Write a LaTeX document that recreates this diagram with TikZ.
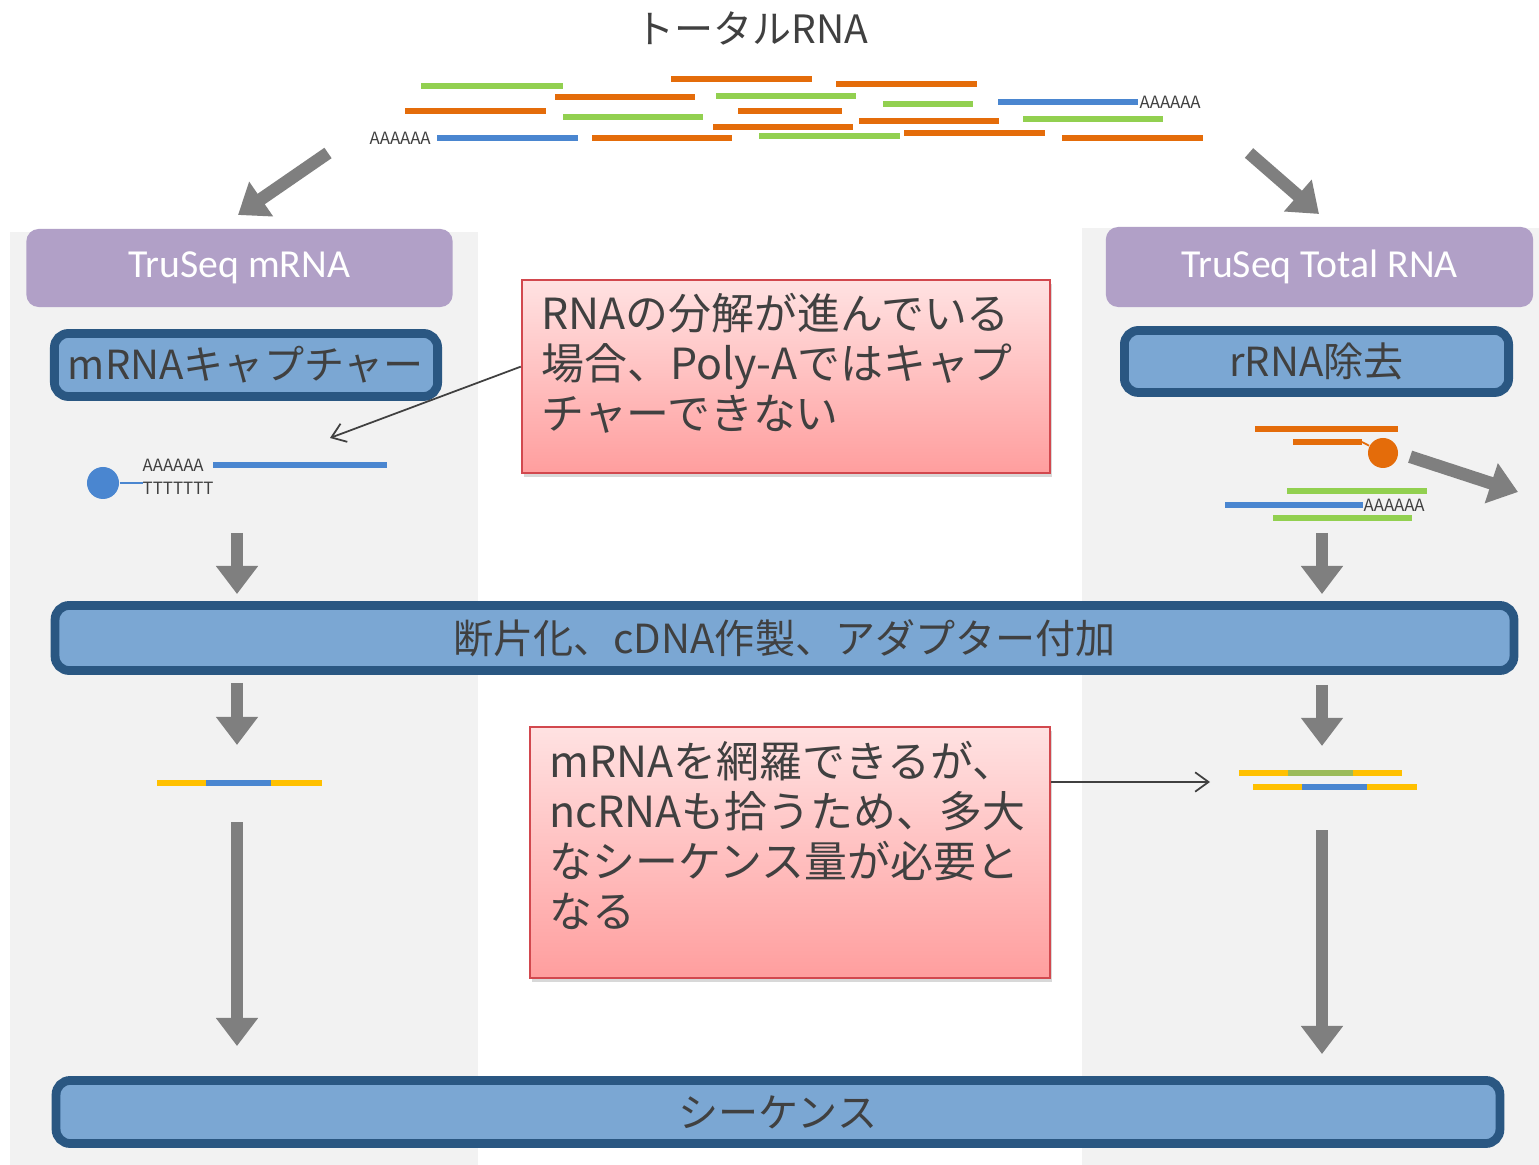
\documentclass[tikz,border=0pt]{standalone}
\usepackage{fontspec}
\setmainfont{Noto Sans CJK JP}
\newfontfamily\kitfont{Carlito}
\usetikzlibrary{arrows.meta,shadows,positioning}

\definecolor{txt}{HTML}{404040}
\definecolor{panel}{HTML}{F2F2F2}
\definecolor{kit}{HTML}{B1A0C7}
\definecolor{stepfill}{HTML}{7BA7D3}
\definecolor{stepline}{HTML}{2A5782}
\definecolor{notetop}{HTML}{FFE2E2}
\definecolor{notebottom}{HTML}{FF9E9E}
\definecolor{noteline}{HTML}{D2484E}
\definecolor{arrowgray}{HTML}{7F7F7F}
\definecolor{rnaorange}{HTML}{E46C0A}
\definecolor{rnagreen}{HTML}{92D050}
\definecolor{rnablue}{HTML}{4A86D0}
\definecolor{adapter}{HTML}{FFC000}
\definecolor{insert}{HTML}{9BBB59}

\begin{document}
\begin{tikzpicture}[x=0.01cm, y=-0.01cm,
  every node/.style={text=txt},
  kitbox/.style={fill=kit, rounded corners=3.5pt, inner sep=0pt, text=white,
    font=\kitfont\fontsize{11.3}{13}\selectfont},
  stepbox/.style={draw=stepline, fill=stepfill, line width=2.5pt, rounded corners=4pt, inner sep=0pt,
    font=\fontsize{11.4}{13}\selectfont,
    drop shadow={shadow xshift=-0.5pt, shadow yshift=-0.9pt, opacity=0.3}},
  note/.style={draw=noteline, line width=0.6pt, top color=notetop, bottom color=notebottom,
    drop shadow={shadow xshift=0.6pt, shadow yshift=-1.2pt, opacity=0.3}},
  notetext/.style={align=left, inner sep=0pt, font=\fontsize{12.2}{14.2}\selectfont},
  flow/.style={draw=arrowgray, line width=3.6pt, -{Triangle[width=11.5pt, length=8pt]}},
  pointer/.style={draw=txt, line width=0.5pt, -{Straight Barb[length=3.8pt, width=5.5pt]}},
  strand/.style={line width=1.7pt},
  polya/.style={inner sep=0pt, text=black!75, font=\fontsize{4.8}{4.8}\selectfont},
]
\useasboundingbox (0,0) rectangle (1539,1165);
\fill[white] (0,0) rectangle (1539,1165);
\fill[panel] (10,232) rectangle (478,1165);
\fill[panel] (1082,228) rectangle (1539,1165);

\node (total) at (752,28) [font=\fontsize{11.1}{13}\selectfont] {トータルRNA};

\draw[strand, rnagreen] (421,86) -- (563,86);
\draw[strand, rnaorange] (671,79) -- (812,79);
\draw[strand, rnaorange] (836,84) -- (977,84);
\draw[strand, rnaorange] (555,97) -- (695,97);
\draw[strand, rnagreen] (716,96) -- (856,96);
\draw[strand, rnagreen] (883,104) -- (973,104);
\draw[strand, rnablue] (998,102) -- (1138,102);
\draw[strand, rnaorange] (405,111) -- (546,111);
\draw[strand, rnaorange] (738,111) -- (842,111);
\draw[strand, rnagreen] (563,117) -- (703,117);
\draw[strand, rnaorange] (859,121) -- (999,121);
\draw[strand, rnagreen] (1023,119) -- (1163,119);
\draw[strand, rnaorange] (713,127) -- (853,127);
\draw[strand, rnaorange] (904,133) -- (1045,133);
\draw[strand, rnablue] (437,138) -- (578,138);
\draw[strand, rnaorange] (592,138) -- (732,138);
\draw[strand, rnagreen] (759,136) -- (900,136);
\draw[strand, rnaorange] (1062,138) -- (1203,138);
\node[polya, anchor=west] (tailA) at (369,138) {AAAAAA};
\node[polya, anchor=west] (tailB) at (1139,102) {AAAAAA};

\coordinate (splitL) at (328,153);
\coordinate (intoL) at (238,215);
\coordinate (splitR) at (1249,153);
\coordinate (intoR) at (1319,214);
\draw[flow] (splitL) -- (intoL);
\draw[flow] (splitR) -- (intoR);

\node[kitbox, minimum width=4.26cm, minimum height=0.78cm] (kitm) at (239.5,268) {TruSeq mRNA};
\node[kitbox, minimum width=4.27cm, minimum height=0.80cm] (kitt) at (1319.5,267) {TruSeq Total RNA};

\node[stepbox, minimum width=3.83cm, minimum height=0.63cm] (capture) at (246,365) {mRNAキャプチャー};
\node[stepbox, minimum width=3.84cm, minimum height=0.62cm] (rrna) at (1316.5,361.5) {rRNA除去};

% poly-A capture bead
\node[circle, fill=rnablue, minimum size=0.32cm, inner sep=0pt] (bead) at (103,483) {};
\draw[rnablue, line width=0.6pt] (bead) -- (143,483);
\node[polya, anchor=west] (oligo) at (142,488) {TTTTTTT};
\node[polya, anchor=west] (tailC) at (142,465) {AAAAAA};
\draw[strand, rnablue] (213,465) -- (387,465);
\coordinate (captured) at (330,438);

% rRNA depletion probe
\draw[strand, rnaorange] (1255,429) -- (1398,429);
\draw[strand, rnaorange] (1293,442) -- (1362,442);
\node[circle, fill=rnaorange, minimum size=0.30cm, inner sep=0pt] (probe) at (1383,453) {};
\draw[rnaorange, line width=0.5pt] (1362,442) -- (probe);
\coordinate (outR) at (1518,492);
\draw[flow, shorten <=0.12cm] (probe.east) -- (outR);
\draw[strand, rnagreen] (1287,491) -- (1427,491);
\draw[strand, rnablue] (1225,505) -- (1363,505);
\node[polya, anchor=west] (tailD) at (1363,505) {AAAAAA};
\draw[strand, rnagreen] (1273,518) -- (1412,518);

\node[note, minimum width=5.28cm, minimum height=1.93cm] (note1) at (786,376.5) {};
\node[notetext, text width=4.88cm, below right=0.14cm and 0.2cm of note1.north west] (note1txt)
  {RNAの分解が進んでいる\\場合、Poly-Aではキャプ\\チャーできない};
\draw[pointer] ([yshift=2.8pt]note1.west) -- (captured);

\node[stepbox, minimum width=14.58cm, minimum height=0.65cm] (frag) at (784.5,638) {断片化、cDNA作製、アダプター付加};

\coordinate (leftcol) at (237,533);
\coordinate (rightcol) at (1322,533);
\draw[flow, shorten >=0.07cm] (leftcol) -- (leftcol |- frag.north);
\draw[flow, shorten >=0.07cm] (rightcol) -- (rightcol |- frag.north);

% adapter-ligated fragments
\coordinate (libL) at (237,783);
\draw[strand, adapter] (157,783) -- (206,783);
\draw[strand, rnablue] (206,783) -- (271,783);
\draw[strand, adapter] (271,783) -- (322,783);
\coordinate (libR) at (1322,780);
\draw[strand, adapter] (1239,773) -- (1288,773);
\draw[strand, insert] (1288,773) -- (1353,773);
\draw[strand, adapter] (1353,773) -- (1402,773);
\draw[strand, adapter] (1253,787) -- (1302,787);
\draw[strand, rnablue] (1302,787) -- (1367,787);
\draw[strand, adapter] (1367,787) -- (1417,787);

\node[note, minimum width=5.20cm, minimum height=2.51cm] (note2) at (790,852.5) {};
\node[notetext, text width=4.80cm, below right=0.15cm and 0.2cm of note2.north west] (note2txt)
  {mRNAを網羅できるが、\\ncRNAも拾うため、多大\\なシーケンス量が必要と\\なる};
\coordinate (fragR) at (1210,782);
\draw[pointer] (note2.east |- fragR) -- (fragR);

\node[stepbox, minimum width=14.43cm, minimum height=0.63cm] (seq) at (778,1112) {シーケンス};

\draw[flow, shorten <=0.08cm, shorten >=0.38cm] (frag.south -| libL) -- (libL);
\draw[flow, shorten <=0.10cm, shorten >=0.34cm] (frag.south -| libR) -- (libR);
\draw[flow, shorten <=0.39cm, shorten >=0.30cm] (libL) -- (libL |- seq.north);
\draw[flow, shorten <=0.50cm, shorten >=0.22cm] (libR) -- (libR |- seq.north);
\end{tikzpicture}
\end{document}
